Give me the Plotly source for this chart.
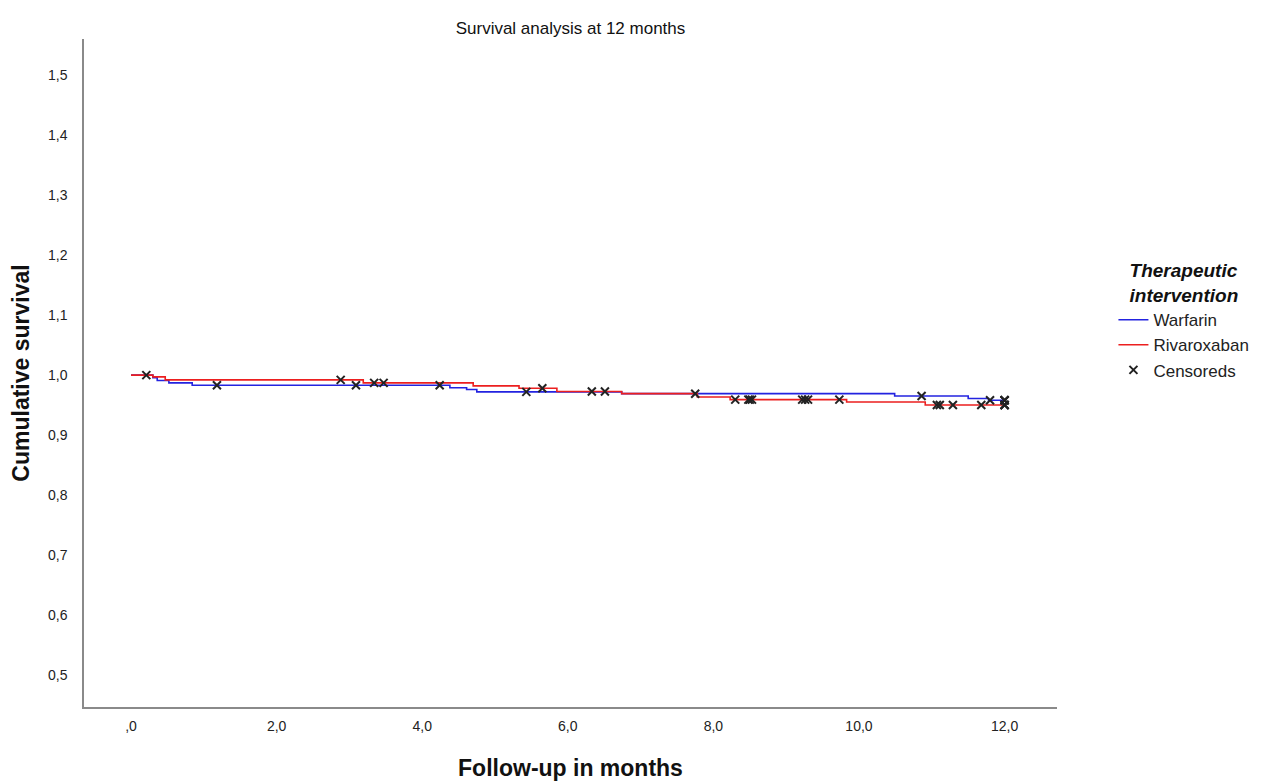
import numpy as np
import plotly.graph_objects as go

# ---- data ----
warfarin_event_times = [0.30, 0.36, 0.52, 0.84, 4.38, 4.61, 4.75, 6.74, 10.49, 11.50, 11.78]
warfarin_survival = [0.9955, 0.991, 0.987, 0.983, 0.979, 0.976, 0.972, 0.969, 0.965, 0.961, 0.958]
warfarin_censored_times = [1.18, 3.09, 4.24, 5.43, 10.86, 11.80, 12.0, 12.0, 12.0]

rivaroxaban_event_times = [0.30, 0.47, 3.19, 4.70, 5.33, 5.85, 6.74, 7.78, 8.23, 9.83, 10.91]
rivaroxaban_survival = [0.997, 0.992, 0.987, 0.982, 0.978, 0.9725, 0.969, 0.9635, 0.959, 0.955, 0.950]
rivaroxaban_censored_times = [0.21, 2.88, 3.34, 3.47, 5.65, 6.33, 6.51, 7.75, 8.30, 8.48, 8.50,
                              8.53, 9.22, 9.26, 9.30, 9.73, 11.07, 11.11, 11.29, 11.68, 12.0, 12.0, 12.0]

follow_up_end = 12.0
x_tick_values = [0, 2, 4, 6, 8, 10, 12]
x_tick_labels = [",0", "2,0", "4,0", "6,0", "8,0", "10,0", "12,0"]
y_tick_values = [0.5, 0.6, 0.7, 0.8, 0.9, 1.0, 1.1, 1.2, 1.3, 1.4, 1.5]
y_tick_labels = ["0,5", "0,6", "0,7", "0,8", "0,9", "1,0", "1,1", "1,2", "1,3", "1,4", "1,5"]

BLUE = "#2323e0"
RED = "#ec1f1f"
FONT = "Arial, Liberation Sans, sans-serif"


def km_curve(times, surv):
    xs = [0.0] + list(times) + [follow_up_end]
    ys = [1.0] + list(surv) + [surv[-1]]
    return xs, ys


def surv_at(times, surv, t):
    idx = np.searchsorted(np.array(times), t, side="right")
    return 1.0 if idx == 0 else surv[idx - 1]


fig = go.Figure()

wx, wy = km_curve(warfarin_event_times, warfarin_survival)
rx, ry = km_curve(rivaroxaban_event_times, rivaroxaban_survival)

fig.add_trace(go.Scatter(x=wx, y=wy, mode="lines", line=dict(shape="hv", color=BLUE, width=1.6),
                         name="Warfarin", hoverinfo="skip"))
fig.add_trace(go.Scatter(x=rx, y=ry, mode="lines", line=dict(shape="hv", color=RED, width=1.6),
                         name="Rivaroxaban", hoverinfo="skip"))

marker = dict(symbol="x-thin", size=8, color="black", line=dict(width=2, color="#222"))
fig.add_trace(go.Scatter(
    x=warfarin_censored_times,
    y=[surv_at(warfarin_event_times, warfarin_survival, t) for t in warfarin_censored_times],
    mode="markers", marker=marker, name="Censoreds", legendgroup="cens", showlegend=True))
fig.add_trace(go.Scatter(
    x=rivaroxaban_censored_times,
    y=[surv_at(rivaroxaban_event_times, rivaroxaban_survival, t) for t in rivaroxaban_censored_times],
    mode="markers", marker=marker, name="Censoreds", legendgroup="cens", showlegend=False))

fig.update_layout(
    width=1267, height=781,
    margin=dict(l=84, r=210, t=39, b=74, autoexpand=False),
    paper_bgcolor="white", plot_bgcolor="white",
    font=dict(family=FONT, color="#222", size=12),
    title=dict(text="Survival analysis at 12 months", x=0.5, xref="paper", xanchor="center",
               y=1 - 28 / 781, yanchor="middle", font=dict(size=17, color="#111")),
    legend=dict(x=1.058, xanchor="left", y=0.68, yanchor="top",
                font=dict(size=17, color="#222"), tracegroupgap=0,
                title=dict(text="<b><i>Therapeutic<br>intervention</i></b>", side="top center",
                           font=dict(size=19, color="#111")),
                itemwidth=30, bgcolor="rgba(0,0,0,0)"),
    xaxis=dict(range=[-0.646, 12.72], tickvals=x_tick_values, ticktext=x_tick_labels,
               showgrid=False, zeroline=False, showline=True, linecolor="#8a8a8a", linewidth=1.5,
               ticks="outside", ticklen=5, tickcolor="rgba(0,0,0,0)", tickfont=dict(size=14),
               automargin=False,
               title=dict(text="<b>Follow-up in months</b>", font=dict(size=23, color="#111"), standoff=33)),
    yaxis=dict(range=[0.446, 1.561], tickvals=y_tick_values, ticktext=y_tick_labels,
               showgrid=False, zeroline=False, showline=True, linecolor="#8a8a8a", linewidth=1.5,
               ticks="outside", ticklen=12, tickcolor="rgba(0,0,0,0)", tickfont=dict(size=14),
               automargin=False,
               title=dict(text="<b>Cumulative survival</b>", font=dict(size=23, color="#111"), standoff=12)),
)

fig.write_html("out.html", config={"displayModeBar": False},
               post_script="document.body.style.margin='0';")
